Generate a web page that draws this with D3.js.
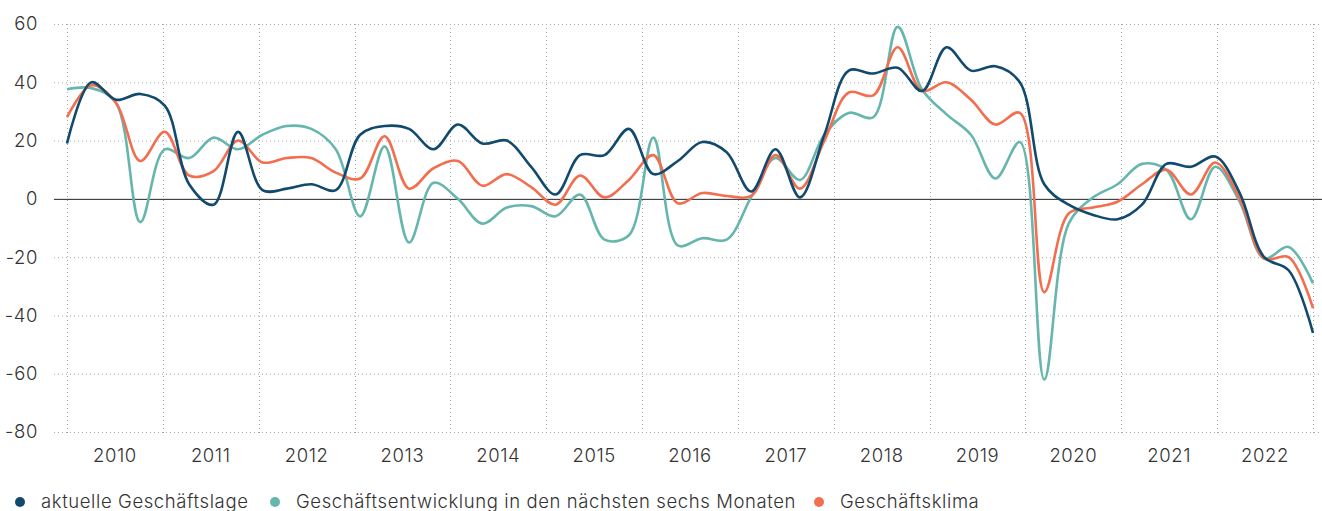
<!DOCTYPE html>
<html>
<head>
<meta charset="utf-8">
<script src="https://cdn.jsdelivr.net/npm/d3@7"></script>
<style>
  body { margin: 0; background: #fff; }
  svg { font-family: Inter, "Noto Sans", sans-serif; font-weight: 300; letter-spacing: 0.6px; }
</style>
</head>
<body>
<svg width="1322" height="511"></svg>
<script>
const width = 1322;
const height = 511;
const margin = { top: 24, right: 9, bottom: 79, left: 67 };

// quarterly values 2010 Q1 .. 2022 Q4
const years = [2010, 2011, 2012, 2013, 2014, 2015, 2016, 2017, 2018, 2019, 2020, 2021, 2022];
const yTicks = [60, 40, 20, 0, -20, -40, -60, -80];

const lage = [19, 40, 34, 36, 32, 5, -2, 23, 3, 3.5, 5, 3,
  22, 25, 24, 17, 25.5, 19, 20, 11, 1.5, 15, 15, 24,
  8.5, 13, 19.5, 16, 2.5, 17, 0.5, 22, 44, 43, 45, 37,
  52, 44, 45.5, 40, 5, -2, -5.5, -7, -2, 12, 11, 14.5,
  2, -20, -24.5, -46];
const entwicklung = [37.6, 38, 33, -8, 17, 14, 21, 17, 22, 25, 24, 17,
  -6, 18, -15, 5.5, 0, -8.5, -3, -2.5, -6, 1.5, -14, -12.5,
  21, -16, -13.5, -14, 0.5, 14, 6.5, 22, 29.5, 28, 59, 37.5,
  29, 22, 7, 19.5, -62, -8.5, 0.5, 5, 12, 10, -7, 11,
  -1, -20.5, -16.5, -29];
const klima = [28, 39, 33, 13, 23, 8, 9.5, 20, 12.5, 14, 14, 9,
  7, 21.5, 3.5, 10.5, 13, 4.5, 8.5, 4, -2, 8, 0.5, 6.5,
  15, -1.5, 2, 1, 1, 15, 3.5, 20, 36.5, 35.5, 52, 37,
  40, 34, 25.5, 29.5, -32, -5, -3, -1, 5, 10, 1.5, 12.5,
  0, -20.5, -20, -37.5];

const seriesNames = ["aktuelle Geschäftslage", "Geschäftsentwicklung in den nächsten sechs Monaten", "Geschäftsklima"];
const colors = ["#124a6e", "#67b6ad", "#f26e4f"];
const seriesData = [lage, entwicklung, klima];

const svg = d3.select("svg");

const x0 = margin.left;
const yearScale = d3.scaleLinear().domain([2010, 2023]).range([x0, 1313]);
const xScale = d3.scaleLinear().domain([0, lage.length - 1]).range([x0, 1313]);
const yScale = d3.scaleLinear().domain([-80, 60]).range([432, margin.top]);

// horizontal grid
svg.append("g")
  .selectAll("line")
  .data(yTicks.filter(d => d !== 0))
  .enter()
  .append("line")
  .attr("x1", 54)
  .attr("x2", width)
  .attr("y1", d => yScale(d) + 0.5)
  .attr("y2", d => yScale(d) + 0.5)
  .attr("stroke", "#a8a8a8")
  .attr("stroke-dasharray", "1,3");

// vertical grid at year boundaries
svg.append("g")
  .selectAll("line")
  .data(d3.range(2010, 2024))
  .enter()
  .append("line")
  .attr("x1", d => Math.round(yearScale(d)) + 0.5)
  .attr("x2", d => Math.round(yearScale(d)) + 0.5)
  .attr("y1", margin.top)
  .attr("y2", 435)
  .attr("stroke", "#a8a8a8")
  .attr("stroke-dasharray", "1,3");

// y labels
svg.append("g")
  .selectAll("text")
  .data(yTicks)
  .enter()
  .append("text")
  .attr("x", 38)
  .attr("y", d => yScale(d))
  .attr("dy", "0.35em")
  .attr("text-anchor", "end")
  .attr("font-size", 18.5)
  .attr("fill", "#333")
  .text(d => d);

// x labels, centered in each year band
svg.append("g")
  .selectAll("text")
  .data(years)
  .enter()
  .append("text")
  .attr("x", d => yearScale(d + 0.5))
  .attr("y", 462)
  .attr("text-anchor", "middle")
  .attr("font-size", 18.5)
  .attr("fill", "#333")
  .text(d => d);

// zero line
svg.append("line")
  .attr("x1", 54)
  .attr("x2", width)
  .attr("y1", yScale(0) + 0.5)
  .attr("y2", yScale(0) + 0.5)
  .attr("stroke", "#222")
  .attr("stroke-width", 1);

const line = d3.line()
  .x((d, i) => xScale(i))
  .y(d => yScale(d))
  .curve(d3.curveCatmullRom);

// draw teal first, then orange, navy on top
[1, 2, 0].forEach(k => {
  svg.append("path")
    .datum(seriesData[k])
    .attr("fill", "none")
    .attr("stroke", colors[k])
    .attr("stroke-width", 2.6)
    .attr("stroke-linejoin", "round")
    .attr("d", line);
});

// legend
const legendX = [20, 275, 819];
const legend = svg.append("g")
  .selectAll("g")
  .data(seriesNames)
  .enter()
  .append("g")
  .attr("transform", (d, i) => `translate(${[legendX[i], 502]})`);

legend.append("circle")
  .attr("r", 5)
  .attr("fill", (d, i) => colors[i]);

legend.append("text")
  .attr("x", 21)
  .attr("y", 6)
  .attr("font-size", 18.5)
  .attr("fill", "#333")
  .text(d => d);
</script>
</body>
</html>
